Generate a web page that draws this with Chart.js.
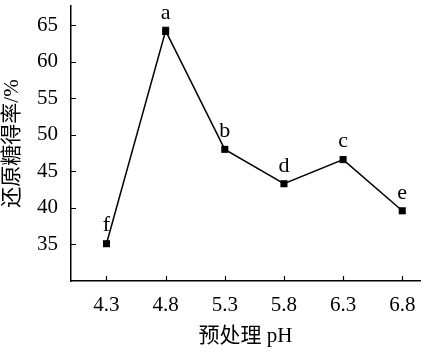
<!DOCTYPE html>
<html>
<head>
<meta charset="utf-8">
<script src="https://cdn.jsdelivr.net/npm/chart.js@4/dist/chart.umd.min.js"></script>
<style>
  html, body { margin: 0; padding: 0; background: #fff; }
  #wrap { width: 425px; height: 353px; }
</style>
</head>
<body>
<div id="wrap"><canvas id="chart"></canvas></div>
<script>
// Datos
const phValues = [4.3, 4.8, 5.3, 5.8, 6.3, 6.8];
const yieldValues = [35.1, 64.2, 48.0, 43.3, 46.6, 39.6];
const yieldErrors = [0, 0.5, 0, 0, 0, 0];
const letters = ['f', 'a', 'b', 'd', 'c', 'e'];
const yTicks = [35, 40, 45, 50, 55, 60, 65];

const FONT = "'Liberation Serif', 'Noto Sans CJK SC', serif";

// Quita el relleno automático que añaden las etiquetas
function noPadding(s) {
    s.paddingTop = 0;
    s.paddingBottom = 0;
    s.paddingLeft = 0;
    s.paddingRight = 0;
}

// Ticks hacia dentro, barras de error y letras
const decorPlugin = {
    id: 'decor',
    afterDatasetsDraw(chart) {
        const ctx = chart.ctx;
        const x = chart.scales.x;
        const y = chart.scales.y;
        const area = chart.chartArea;
        ctx.save();
        ctx.strokeStyle = '#000';
        ctx.lineWidth = 1.2;
        ctx.beginPath();
        phValues.forEach(v => {
            const px = Math.round(x.getPixelForValue(v)) + 0.5;
            ctx.moveTo(px, area.bottom);
            ctx.lineTo(px, area.bottom - 5);
        });
        yTicks.forEach(v => {
            const py = Math.round(y.getPixelForValue(v)) + 0.5;
            ctx.moveTo(area.left, py);
            ctx.lineTo(area.left + 5, py);
        });
        ctx.stroke();

        // barras de error
        ctx.lineWidth = 1;
        phValues.forEach((v, i) => {
            if (!yieldErrors[i]) return;
            const px = x.getPixelForValue(v);
            const top = y.getPixelForValue(yieldValues[i] + yieldErrors[i]);
            const bot = y.getPixelForValue(yieldValues[i] - yieldErrors[i]);
            ctx.beginPath();
            ctx.moveTo(px, top); ctx.lineTo(px, bot);
            ctx.moveTo(px - 3.5, top); ctx.lineTo(px + 3.5, top);
            ctx.moveTo(px - 3.5, bot); ctx.lineTo(px + 3.5, bot);
            ctx.stroke();
        });

        // letras de significancia
        ctx.fillStyle = '#000';
        ctx.font = '22px ' + FONT;
        ctx.textAlign = 'center';
        ctx.textBaseline = 'bottom';
        phValues.forEach((v, i) => {
            const px = x.getPixelForValue(v);
            const py = y.getPixelForValue(yieldValues[i]);
            ctx.fillText(letters[i], px, py - 7);
        });
        ctx.restore();
    }
};

new Chart(document.getElementById('chart'), {
    type: 'line',
    data: {
        datasets: [{
            data: phValues.map((v, i) => ({ x: v, y: yieldValues[i] })),
            borderColor: '#000',
            borderWidth: 1.5,
            backgroundColor: '#000',
            pointStyle: 'rect',
            pointRadius: 5,
            pointBorderWidth: 0,
            tension: 0
        }]
    },
    options: {
        responsive: true,
        maintainAspectRatio: false,
        animation: false,
        layout: { padding: { top: 6, right: 0, left: 0, bottom: 0 } },
        plugins: {
            legend: { display: false },
            tooltip: { enabled: false }
        },
        scales: {
            x: {
                type: 'linear',
                min: 4.0,
                max: 6.95,
                afterBuildTicks: s => { s.ticks = phValues.map(v => ({ value: v })); },
                afterFit: s => { s.height = 72; noPadding(s); },
                grid: { display: false, drawTicks: false },
                border: { color: '#000', width: 1.5 },
                ticks: {
                    color: '#000',
                    font: { family: FONT, size: 21 },
                    padding: 12,
                    maxRotation: 0,
                    callback: v => v.toFixed(1)
                },
                title: {
                    display: true,
                    text: '预处理 pH',
                    color: '#000',
                    font: { family: FONT, size: 21 },
                    padding: { top: 0, bottom: 4 }
                }
            },
            y: {
                min: 30,
                max: 67.6,
                afterBuildTicks: s => { s.ticks = yTicks.map(v => ({ value: v })); },
                afterFit: s => { s.width = 71; noPadding(s); },
                grid: { display: false, drawTicks: false },
                border: { color: '#000', width: 1.5 },
                ticks: {
                    color: '#000',
                    font: { family: FONT, size: 21 },
                    padding: 13
                },
                title: {
                    display: true,
                    text: '还原糖得率/%',
                    color: '#000',
                    font: { family: FONT, size: 21 },
                    padding: { top: 0, bottom: 0 }
                }
            }
        }
    },
    plugins: [decorPlugin]
});
</script>
</body>
</html>
